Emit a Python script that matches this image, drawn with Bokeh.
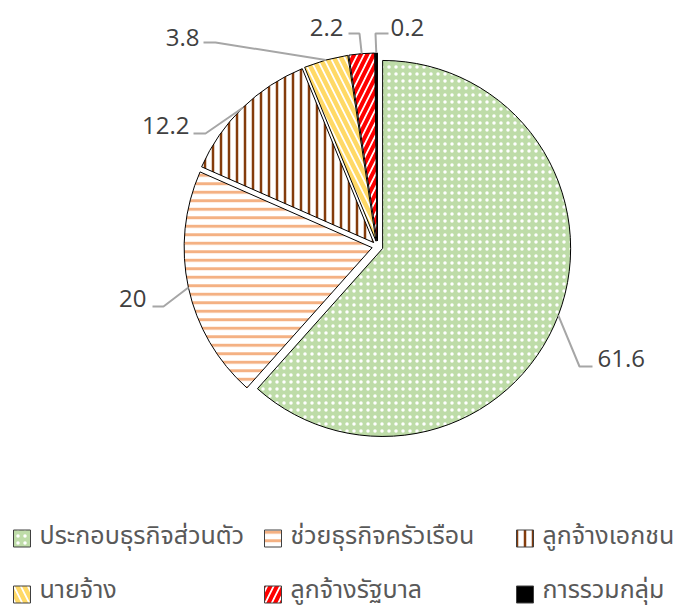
import math
from bokeh.plotting import figure
from bokeh.models import ColumnDataSource, Range1d
from bokeh.core.properties import value
from bokeh.embed import file_html
from bokeh.resources import INLINE

# ---- data ----
categories = ["ประกอบธุรกิจส่วนตัว", "ช่วยธุรกิจครัวเรือน", "ลูกจ้างเอกชน",
              "นายจ้าง", "ลูกจ้างรัฐบาล", "การรวมกลุ่ม"]
values = [61.6, 20, 12.2, 3.8, 2.2, 0.2]

# ---- styles ----
fill_colors = ["#BEDCA8", "white", "white", "white", "white", "black"]
hatch_colors = ["white", "#F4B183", "#843C0C", "#FFD966", "#FF0000", "black"]
hatch_patterns = ["dot", "horizontal_line", "vertical_line",
                  "left_diagonal_line", "right_diagonal_line", "blank"]
hatch_scales = [7, 8.5, 8, 14, 13, 8]
hatch_weights = [2, 3, 2.5, 4.5, 4, 1]

W, H = 682, 610
def sx(X): return X
def sy(Y): return H - Y

CX, CY = sx(377), sy(246)
R = 188
EXPLODE = 5.5

total = sum(values)
cum = 0.0
xs, ys, starts, ends, ax, ay = [], [], [], [], [], []
for v in values:
    t0 = cum / total * 2 * math.pi
    cum += v
    t1 = cum / total * 2 * math.pi
    tm = (t0 + t1) / 2
    ox = CX + EXPLODE * math.sin(tm)
    oy = CY + EXPLODE * math.cos(tm)
    xs.append(ox); ys.append(oy)
    starts.append(math.pi / 2 - t0)
    ends.append(math.pi / 2 - t1)
    ax.append(ox + R * math.sin(tm))
    ay.append(oy + R * math.cos(tm))

src = ColumnDataSource(dict(x=xs, y=ys, start=starts, end=ends, fill=fill_colors,
                            hcol=hatch_colors, hpat=hatch_patterns,
                            hscale=hatch_scales, hw=hatch_weights))

p = figure(width=W, height=H, x_range=Range1d(0, W), y_range=Range1d(0, H),
           output_backend="svg", toolbar_location=None, min_border=0,
           x_axis_location=None, y_axis_location=None)
p.grid.visible = False
p.outline_line_color = None
p.background_fill_color = "white"

p.wedge(x="x", y="y", radius=R, start_angle="start", end_angle="end",
        direction="clock", source=src, fill_color="fill", line_color="black",
        line_width=1, hatch_pattern="hpat", hatch_color="hcol",
        hatch_scale="hscale", hatch_weight="hw")

# ---- data labels with leader lines (layout positions) ----
elbows = [(579, 366), (163, 306), (205, 133), (215, 42), (359, 33), (375, 33)]
line_ends = [(592, 366), (152, 306), (193, 133), (203, 42), (348, 33), (388, 33)]
text_pos = [(597, 358), (146, 298), (189, 125), (199, 37), (343, 27), (390, 27)]
text_align = ["left", "right", "right", "right", "right", "left"]

lx, ly = [], []
for i in range(len(values)):
    lx.append([ax[i], sx(elbows[i][0]), sx(line_ends[i][0])])
    ly.append([ay[i], sy(elbows[i][1]), sy(line_ends[i][1])])
p.multi_line(xs=lx, ys=ly, line_color="#A6A6A6", line_width=2)

lab = ColumnDataSource(dict(x=[sx(t[0]) for t in text_pos], y=[sy(t[1]) for t in text_pos],
                            t=[f"{v:g}" for v in values], a=text_align))
p.text(x="x", y="y", text="t", text_align="a", text_baseline="middle",
       text_font=value("Open Sans"), text_font_size="24px", text_color="#404040",
       source=lab)

# ---- legend (manual) ----
col_x = [13, 264, 516]
row_y = [538, 594]
row_text_y = [535, 589]
PS = 17
leg_px, leg_py, leg_tx, leg_ty = [], [], [], []
for i in range(len(categories)):
    r, c = divmod(i, 3)
    leg_px.append(sx(col_x[c] + PS / 2))
    leg_py.append(sy(row_y[r]))
    leg_tx.append(sx(col_x[c] + PS + 9))
    leg_ty.append(sy(row_text_y[r]))

leg = ColumnDataSource(dict(x=leg_px, y=leg_py, tx=leg_tx, ty=leg_ty, t=categories,
                            fill=fill_colors, hcol=hatch_colors, hpat=hatch_patterns,
                            hscale=hatch_scales, hw=hatch_weights))
p.rect(x="x", y="y", width=PS, height=PS, source=leg, fill_color="fill",
       line_color="#404040", line_width=1, hatch_pattern="hpat", hatch_color="hcol",
       hatch_scale="hscale", hatch_weight="hw")
p.text(x="tx", y="ty", text="t", text_align="left", text_baseline="middle",
       text_font=value("Noto Sans Thai, Noto Sans, sans-serif"), text_font_size="25px",
       text_color="#595959", source=leg)

open("out.html", "w").write(file_html(p, INLINE))
